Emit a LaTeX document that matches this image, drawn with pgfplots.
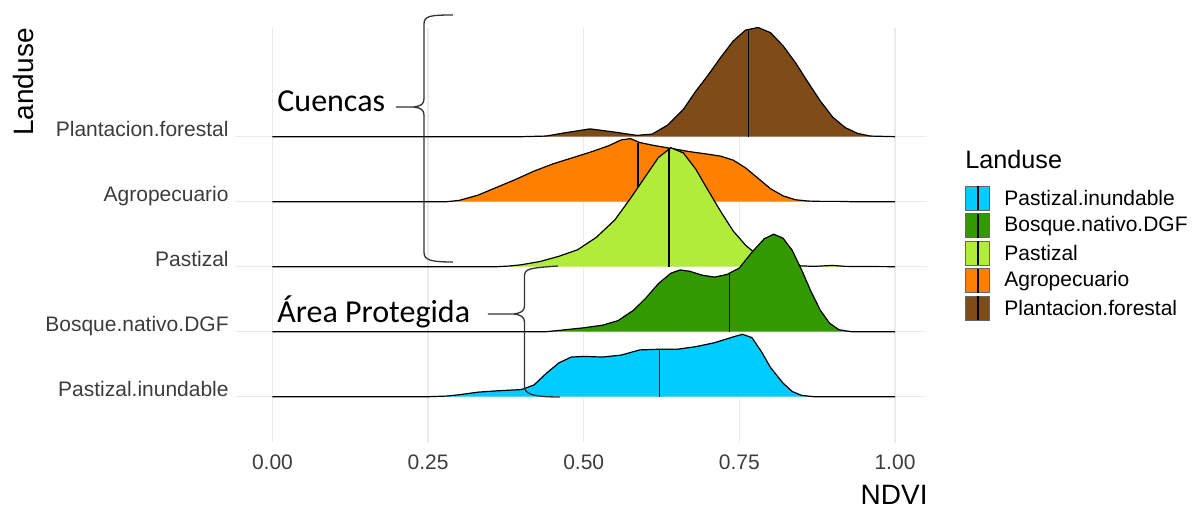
\documentclass[border=0pt]{standalone}
\usepackage{fontspec}
\setmainfont{Liberation Sans}
\newfontfamily\calibri{Carlito}
\usepackage{pgfplots}
\usepackage{pgfplotstable}
\pgfplotsset{compat=1.18}
\definecolor{cInund}{RGB}{0,204,255}
\definecolor{cBosque}{RGB}{51,153,0}
\definecolor{cPast}{RGB}{178,236,59}
\definecolor{cAgro}{RGB}{255,128,0}
\definecolor{cPlant}{RGB}{127,76,25}
\definecolor{gridgray}{RGB}{235,235,235}
\definecolor{tickgray}{RGB}{60,60,60}
\newcommand{\ticfont}{\fontsize{10.5bp}{12bp}\selectfont}
\newcommand{\titfont}{\fontsize{14bp}{16bp}\selectfont}
\newcommand{\legtitfont}{\fontsize{12.6bp}{14bp}\selectfont}
\newcommand{\annfont}{\calibri\fontsize{16bp}{18bp}\selectfont}

\pgfplotstableread{
x h
0.00 0
0.40 0
0.44 0.01
0.47 0.06
0.51 0.12
0.55 0.07
0.585 0.02
0.61 0.04
0.635 0.18
0.66 0.42
0.68 0.70
0.70 0.95
0.72 1.22
0.74 1.47
0.76 1.64
0.78 1.68
0.80 1.60
0.82 1.40
0.84 1.14
0.86 0.84
0.88 0.55
0.90 0.30
0.92 0.14
0.94 0.05
0.96 0.01
1.00 0
}\plant

\pgfplotstableread{
x h
0.00 0
0.28 0
0.30 0.02
0.33 0.10
0.36 0.22
0.39 0.34
0.42 0.47
0.45 0.58
0.48 0.67
0.51 0.76
0.54 0.86
0.56 0.95
0.575 0.97
0.59 0.91
0.61 0.87
0.64 0.82
0.67 0.77
0.70 0.73
0.72 0.70
0.74 0.64
0.76 0.52
0.78 0.36
0.80 0.20
0.82 0.09
0.84 0.03
0.86 0.01
0.88 0.005
0.91 0.005
0.93 0
1.00 0
}\agro

\pgfplotstableread{
x h
0.00 0
0.36 0
0.38 0.01
0.40 0.03
0.43 0.08
0.46 0.16
0.49 0.26
0.52 0.45
0.55 0.72
0.575 1.05
0.60 1.40
0.62 1.68
0.64 1.83
0.66 1.75
0.68 1.50
0.70 1.17
0.72 0.85
0.74 0.55
0.76 0.33
0.78 0.17
0.80 0.07
0.83 0.02
0.87 0.005
0.90 0.02
0.92 0.005
1.00 0
}\past

\pgfplotstableread{
x h
0.00 0
0.44 0
0.47 0.03
0.50 0.06
0.53 0.10
0.555 0.17
0.58 0.33
0.60 0.52
0.62 0.74
0.64 0.90
0.655 0.95
0.67 0.93
0.69 0.87
0.71 0.84
0.73 0.88
0.75 0.98
0.77 1.22
0.79 1.43
0.805 1.50
0.82 1.44
0.835 1.25
0.85 0.95
0.865 0.62
0.88 0.33
0.895 0.13
0.91 0.03
0.93 0
1.00 0
}\bosque

\pgfplotstableread{
x h
0.00 0
0.25 0
0.28 0.01
0.30 0.03
0.33 0.07
0.36 0.09
0.40 0.11
0.42 0.18
0.44 0.36
0.46 0.52
0.48 0.61
0.50 0.62
0.53 0.61
0.56 0.64
0.59 0.72
0.62 0.73
0.65 0.73
0.68 0.77
0.71 0.83
0.74 0.92
0.755 0.96
0.77 0.91
0.785 0.70
0.80 0.45
0.82 0.21
0.835 0.08
0.85 0.02
0.87 0
1.00 0
}\inund

\begin{document}
\begin{tikzpicture}
\begin{axis}[
  at={(117.5bp,33.5bp)}, anchor=south west,
  scale only axis, width=346bp, height=207.5bp,
  xmin=-0.0602, xmax=1.0514, ymin=0.288, ymax=6.672,
  axis line style={draw=none}, major tick length=0pt,
  xtick={0,0.25,0.5,0.75,1},
  xticklabels={0.00,0.25,0.50,0.75,1.00},
  ytick={1,2,3,4,5},
  yticklabels={Pastizal.inundable,Bosque.nativo.DGF,Pastizal,Agropecuario,Plantacion.forestal},
  grid=major, major grid style={color=gridgray, line width=0.7bp},
  xticklabel style={font=\ticfont, text=tickgray, anchor=north, inner sep=0pt, yshift=-5.5bp},
  yticklabel style={font=\ticfont, text=tickgray, anchor=base east, inner sep=0pt, xshift=-3bp},
  /pgf/number format/assume math mode=true,
  clip=false,
]
% Plantacion.forestal (baseline 5)
\addplot[fill=cPlant, draw=black, line width=0.6bp] table[x=x, y expr=\thisrow{h}+5] {\plant};
\addplot[black, line width=0.7bp] coordinates {(0.765,5) (0.765,6.64)};
% Agropecuario (baseline 4)
\addplot[fill=cAgro, draw=black, line width=0.6bp] table[x=x, y expr=\thisrow{h}+4] {\agro};
\addplot[black, line width=0.7bp] coordinates {(0.587,4) (0.587,4.91)};
% Pastizal (baseline 3)
\addplot[fill=cPast, draw=black, line width=0.6bp] table[x=x, y expr=\thisrow{h}+3] {\past};
\addplot[black, line width=0.7bp] coordinates {(0.637,3) (0.637,4.82)};
% Bosque.nativo.DGF (baseline 2)
\addplot[fill=cBosque, draw=black, line width=0.6bp] table[x=x, y expr=\thisrow{h}+2] {\bosque};
\addplot[black, line width=0.7bp] coordinates {(0.734,2) (0.734,2.89)};
% Pastizal.inundable (baseline 1)
\addplot[fill=cInund, draw=black, line width=0.6bp] table[x=x, y expr=\thisrow{h}+1] {\inund};
\addplot[black, line width=0.7bp] coordinates {(0.622,1) (0.622,1.73)};
\end{axis}

\begin{scope}[shift={(0bp,255bp)}, x=0.5bp, y=-0.5bp]
  % axis titles
  \node[rotate=90, anchor=base east, inner sep=0pt, font=\titfont] at (33,28) {Landuse};
  \node[anchor=base east, inner sep=0pt, font=\titfont] at (928,505) {NDVI};
  % annotations
  \node[anchor=base west, inner sep=0pt, font=\annfont] at (277,111.5) {Cuencas};
  \node[anchor=base west, inner sep=0pt, font=\annfont] at (277,323) {Área Protegida};
  \draw[line width=0.65bp, black!80] (453,15) .. controls (430,15) and (424,16) .. (424,24) -- (424,99)
      .. controls (424,104) and (421,106) .. (414,107) -- (396,107);
  \draw[line width=0.65bp, black!80] (414,107) .. controls (421,108) and (424,110) .. (424,115) -- (424,252)
      .. controls (424,260) and (430,262) .. (453,262);
  \draw[line width=0.65bp, black!80] (558,266) .. controls (532,268) and (524.5,268) .. (524.5,276) -- (524.5,306)
      .. controls (524.5,311) and (521,313) .. (514,314) -- (488,314);
  \draw[line width=0.65bp, black!80] (514,314) .. controls (521,315) and (524.5,317) .. (524.5,322) -- (524.5,386)
      .. controls (524.5,394) and (532,397) .. (560,397);
  % legend
  \node[anchor=base west, inner sep=0pt, font=\legtitfont] at (965,169) {Landuse};
  \foreach \c/\t [count=\i from 0] in {cInund/Pastizal.inundable, cBosque/Bosque.nativo.DGF, cPast/Pastizal, cAgro/Agropecuario, cPlant/Plantacion.forestal}{
    \pgfmathsetmacro{\yc}{198.3+27.5*\i}
    \fill[\c, draw=black!60, line width=0.5bp] (966,\yc-12) rectangle (990,\yc+12);
    \draw[black, line width=0.6bp] (978,\yc-12) -- (978,\yc+12);
    \node[anchor=west, inner sep=0pt, font=\ticfont] at (1004,\yc) {\t};
  }
\end{scope}
\pgfresetboundingbox
\useasboundingbox (0,0) rectangle (597bp,255bp);
\end{tikzpicture}
\end{document}
